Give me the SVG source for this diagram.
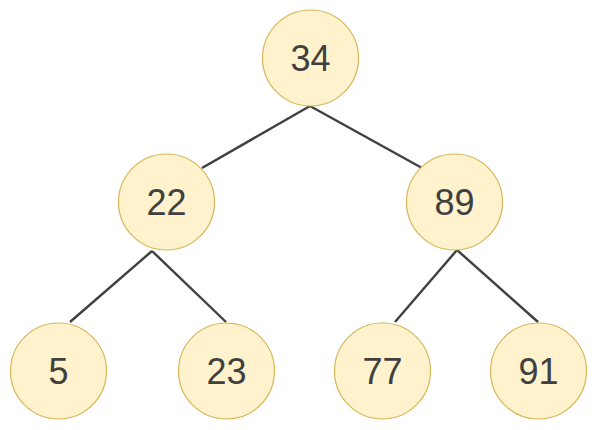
<svg xmlns="http://www.w3.org/2000/svg" width="598" height="430" viewBox="0 0 598 430">
<style>
.n{fill:#fff2cc;stroke:#d6b656;stroke-width:1.2}
.t{font-family:"Liberation Sans",Arial,sans-serif;font-size:36px;fill:#404040;text-anchor:middle}
.e{stroke:#404040;stroke-width:2.4;fill:none}
</style>
<rect width="598" height="430" fill="#fff"/>
<g id="edges">
<line class="e" x1="310" y1="106" x2="202" y2="168"/>
<line class="e" x1="310" y1="106" x2="422" y2="168"/>
<line class="e" x1="152" y1="251" x2="70" y2="322"/>
<line class="e" x1="152" y1="251" x2="226" y2="322"/>
<line class="e" x1="457" y1="250" x2="395" y2="322"/>
<line class="e" x1="457" y1="250" x2="538" y2="322"/>
</g>
<g id="n34"><circle class="n" cx="310.5" cy="58" r="48"/><text class="t" x="310.5" y="71">34</text></g>
<g id="n22"><circle class="n" cx="166.5" cy="202" r="48"/><text class="t" x="166.5" y="215">22</text></g>
<g id="n89"><circle class="n" cx="454.5" cy="202" r="48"/><text class="t" x="454.5" y="215">89</text></g>
<g id="n5"><circle class="n" cx="58.5" cy="371" r="48"/><text class="t" x="58.5" y="384">5</text></g>
<g id="n23"><circle class="n" cx="226.5" cy="371" r="48"/><text class="t" x="226.5" y="384">23</text></g>
<g id="n77"><circle class="n" cx="382.5" cy="371" r="48"/><text class="t" x="382.5" y="384">77</text></g>
<g id="n91"><circle class="n" cx="538.5" cy="371" r="48"/><text class="t" x="538.5" y="384">91</text></g>
</svg>
